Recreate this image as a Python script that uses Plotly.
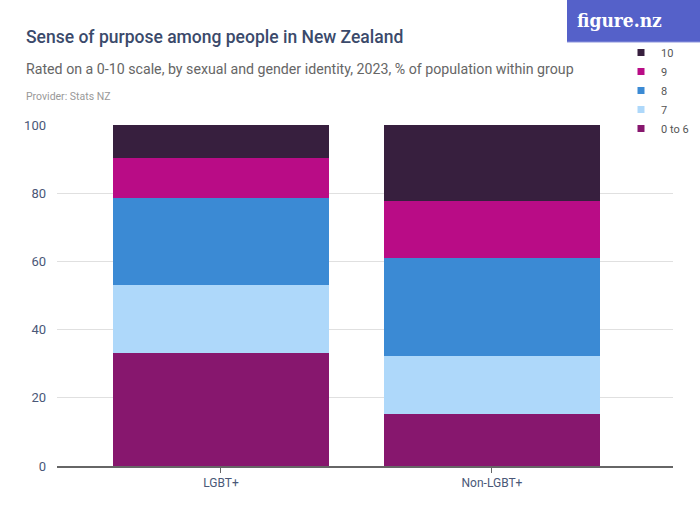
import plotly.graph_objects as go

categories = ["LGBT+", "Non-LGBT+"]
series_names = ["0 to 6", "7", "8", "9", "10"]
values_0to6 = [33.0, 15.3]
values_7 = [20.1, 17.0]
values_8 = [25.4, 28.7]
values_9 = [11.7, 16.7]
values_10 = [9.8, 22.3]
series_values = [values_0to6, values_7, values_8, values_9, values_10]
colors = ["#87176E", "#AED8FA", "#3B8AD4", "#B90C86", "#371F3E"]
y_ticks = [0, 20, 40, 60, 80, 100]

FONT = "Roboto, Liberation Sans, sans-serif"

L, R, T, B = 57, 27, 125, 59
PW, PH = 700 - L - R, 525 - T - B


def px_x(p):
    return (p - L) / PW


def px_y(p):
    return 1 + (T - p) / PH


fig = go.Figure()
for name, vals, col in zip(series_names, series_values, colors):
    fig.add_trace(go.Bar(x=categories, y=vals, name=name, marker_color=col,
                         marker_line_width=0, showlegend=False,
                         hovertemplate="%{x}: %{y}%<extra>" + name + "</extra>"))
    fig.add_trace(go.Scatter(x=[None], y=[None], mode="markers", name=name,
                             marker=dict(symbol="square", size=7, color=col),
                             showlegend=True))

fig.update_layout(
    width=700, height=525,
    barmode="stack", bargap=0.2,
    plot_bgcolor="white", paper_bgcolor="white",
    margin=dict(l=L, r=R, t=T, b=B, autoexpand=False),
    font=dict(family=FONT, color="#4A5878"),
    xaxis=dict(range=[-0.605, 1.668], showgrid=False, showline=True,
               linecolor="#666666", linewidth=1.5, ticks="outside", ticklen=5,
               tickcolor="#666666", tickfont=dict(size=12, color="#4A5878"),
               automargin=False),
    yaxis=dict(range=[0, 100], tickvals=y_ticks, showgrid=True,
               gridcolor="#E0E0E0", gridwidth=1, zeroline=False,
               tickfont=dict(size=13, color="#4A5878"), ticklabelstandoff=10,
               automargin=False),
    legend=dict(x=px_x(621), xanchor="left", y=px_y(38), yanchor="top",
                traceorder="reversed", bgcolor="rgba(0,0,0,0)",
                font=dict(size=11, color="#555555", family=FONT),
                itemwidth=30, tracegroupgap=0),
    showlegend=True,
)

fig.add_annotation(text="Sense of purpose among people in New Zealand",
                   xref="paper", yref="paper", x=px_x(24), y=px_y(37),
                   xanchor="left", yanchor="middle", showarrow=False,
                   font=dict(size=17.5, color="#3B4A6B", family=FONT, weight=500))
fig.add_annotation(text="Rated on a 0-10 scale, by sexual and gender identity, 2023, % of population within group",
                   xref="paper", yref="paper", x=px_x(24), y=px_y(69),
                   xanchor="left", yanchor="middle", showarrow=False,
                   font=dict(size=14.2, color="#666666", family=FONT))
fig.add_annotation(text="Provider: Stats NZ",
                   xref="paper", yref="paper", x=px_x(24), y=px_y(96),
                   xanchor="left", yanchor="middle", showarrow=False,
                   font=dict(size=10.5, color="#999999", family=FONT))

# logo
fig.add_shape(type="rect", xref="paper", yref="paper",
              x0=px_x(567), x1=px_x(700), y0=px_y(42), y1=px_y(0),
              fillcolor="#5561C9", line_width=0, layer="above")
fig.add_shape(type="line", xref="paper", yref="paper",
              x0=px_x(567), x1=px_x(700), y0=px_y(42), y1=px_y(42),
              line=dict(color="#8C94DC", width=1), layer="above")
fig.add_annotation(text="<b>figure.nz</b>", xref="paper", yref="paper",
                   x=px_x(619), y=px_y(20), xanchor="center", yanchor="middle",
                   showarrow=False,
                   font=dict(size=19, color="white", family="DejaVu Serif Condensed, Liberation Serif, serif"))

fig.write_html("out.html", config={"displayModeBar": False},
               post_script="document.body.style.margin='0';")
